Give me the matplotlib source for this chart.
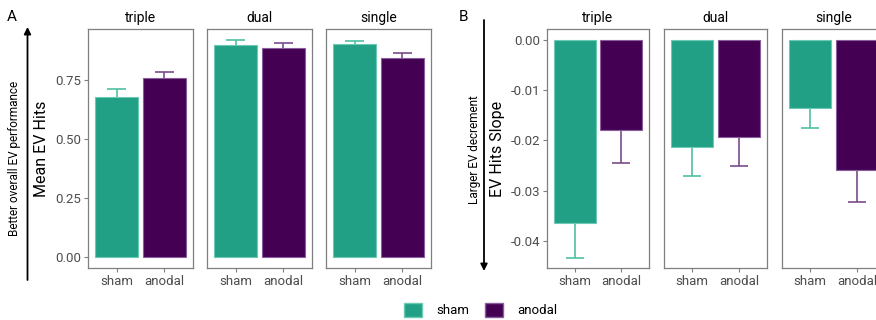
import matplotlib
matplotlib.use("Agg")
import matplotlib.pyplot as plt
from matplotlib.patches import Patch, FancyArrowPatch
from matplotlib.ticker import FixedLocator, FormatStrFormatter

plt.rcParams["font.family"] = ["Roboto", "DejaVu Sans"]
plt.rcParams["axes.unicode_minus"] = False

# data
conditions = ["triple", "dual", "single"]
groups = ["sham", "anodal"]

hits_sham = [0.679, 0.898, 0.904]
hits_anodal = [0.758, 0.884, 0.843]
hits_sham_se = [0.032, 0.020, 0.011]
hits_anodal_se = [0.024, 0.021, 0.022]

slope_sham = [-0.0364, -0.0213, -0.0136]
slope_anodal = [-0.0180, -0.0193, -0.0258]
slope_sham_se = [0.0070, 0.0057, 0.0039]
slope_anodal_se = [0.0065, 0.0059, 0.0064]

hits_ticks = [0.00, 0.25, 0.50, 0.75]
slope_ticks = [0.00, -0.01, -0.02, -0.03, -0.04]

FILL = {"sham": "#21a085", "anodal": "#440154"}
EDGE = {"sham": "#6ccab4", "anodal": "#8a5e9a"}
ERR = {"sham": "#4fbfa3", "anodal": "#7a4b8b"}
FRAME = "#7f7f7f"
TICKLAB = "#4d4d4d"

W, H = 876, 320
fig = plt.figure(figsize=(W / 100, H / 100), dpi=100)


def add_ax(x0, x1, y0=29, y1=268):
    return fig.add_axes([x0 / W, 1 - y1 / H, (x1 - x0) / W, (y1 - y0) / H])


def draw_panel(ax, title, vals, ses, direction, ylim, show_y, ticks):
    x = [1, 2]
    for i, g in enumerate(groups):
        v, se = vals[i], ses[i]
        end = v + direction * se
        ax.vlines(x[i], v, end, color=ERR[g], lw=1.2, zorder=1)
        ax.hlines(end, x[i] - 0.2, x[i] + 0.2, color=ERR[g], lw=1.2, zorder=1)
        ax.bar(x[i], v, width=0.9, color=FILL[g], edgecolor=EDGE[g],
               linewidth=0.8, zorder=2)
    ax.set_xlim(0.4, 2.6)
    ax.set_ylim(*ylim)
    ax.set_xticks(x)
    ax.set_xticklabels(groups)
    ax.tick_params(axis="x", colors=FRAME, labelcolor=TICKLAB, labelsize=9.5,
                   length=3, width=0.8, pad=2)
    if show_y:
        ax.yaxis.set_major_locator(FixedLocator(ticks))
        ax.yaxis.set_major_formatter(FormatStrFormatter("%.2f"))
        ax.tick_params(axis="y", colors=FRAME, labelcolor=TICKLAB,
                       labelsize=9.5, length=3, width=0.8, pad=2)
    else:
        ax.set_yticks([])
    for s in ax.spines.values():
        s.set_color(FRAME)
        s.set_linewidth(0.9)
    ax.set_title(title, fontsize=10, pad=5)


panels_a = [(88, 193), (207, 312), (326, 431)]
panels_b = [(547, 649), (664, 767), (782, 885)]

for k, cond in enumerate(conditions):
    ax = add_ax(*panels_a[k])
    draw_panel(ax, cond, [hits_sham[k], hits_anodal[k]],
               [hits_sham_se[k], hits_anodal_se[k]], 1,
               (-0.046, 0.966), k == 0, hits_ticks)
    if k == 0:
        ax.set_ylabel("Mean EV Hits", fontsize=11.5, labelpad=4)

for k, cond in enumerate(conditions):
    ax = add_ax(*panels_b[k])
    draw_panel(ax, cond, [slope_sham[k], slope_anodal[k]],
               [slope_sham_se[k], slope_anodal_se[k]], -1,
               (-0.0454, 0.00216), k == 0, slope_ticks)
    if k == 0:
        ax.set_ylabel("EV Hits Slope", fontsize=11.5, labelpad=4)


def side_arrow(x, y_from, y_to):
    arr = FancyArrowPatch((x / W, 1 - y_from / H), (x / W, 1 - y_to / H),
                          transform=fig.transFigure, arrowstyle="-|>",
                          color="black", lw=1.3, mutation_scale=10,
                          shrinkA=0, shrinkB=0)
    fig.patches.append(arr)


# side arrows and annotations
side_arrow(27.5, 280, 27)
fig.text(15 / W, 1 - 158 / H, "Better overall EV performance", rotation=90,
         ha="center", va="center", fontsize=8.5)
side_arrow(484, 20, 271)
fig.text(474 / W, 1 - 150 / H, "Larger EV decrement", rotation=90,
         ha="center", va="center", fontsize=8.5)

fig.text(12 / W, 1 - 17 / H, "A", ha="center", va="center", fontsize=11)
fig.text(463 / W, 1 - 17 / H, "B", ha="center", va="center", fontsize=11)

handles = [Patch(facecolor=FILL[g], edgecolor=EDGE[g], label=g) for g in groups]
fig.legend(handles=handles, loc="center", bbox_to_anchor=(0.549, 1 - 310 / H),
           ncol=2, frameon=False, fontsize=9.5, handlelength=1.35,
           handleheight=1.35, handletextpad=1.1, columnspacing=1.2)

fig.savefig("out.png", dpi=100)
